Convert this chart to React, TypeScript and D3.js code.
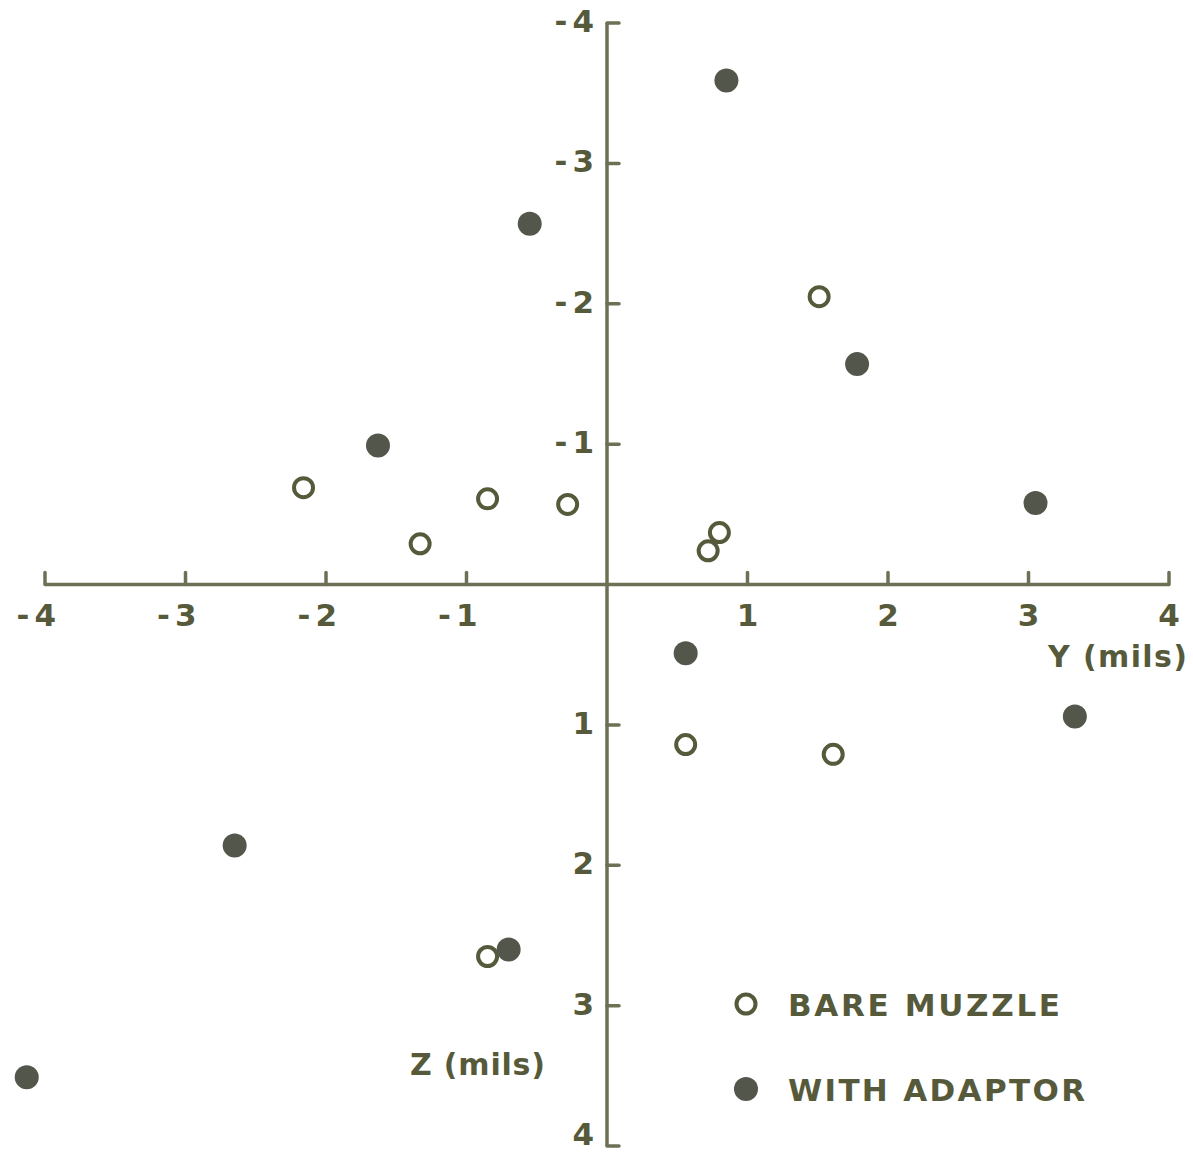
import React from "react";
import * as d3 from "d3";

const bareY = [1.51, -2.16, -0.85, -0.28, -1.33, 0.80, 0.72, 0.56, 1.61, -0.85];
const bareZ = [-2.05, -0.69, -0.61, -0.57, -0.29, -0.37, -0.24, 1.14, 1.21, 2.65];
const adaptY = [0.85, -0.55, 1.78, -1.63, 3.05, 0.56, 3.33, -2.65, -0.70, -4.13];
const adaptZ = [-3.59, -2.57, -1.57, -0.99, -0.58, 0.49, 0.94, 1.86, 2.60, 3.51];
const yTicks = [-4, -3, -2, -1, 1, 2, 3, 4];
const zTicks = [-4, -3, -2, -1, 1, 2, 3, 4];
const legendLabels = ["BARE MUZZLE", "WITH ADAPTOR"];
const axisTitles = ["Y (mils)", "Z (mils)"];

const W = 1193;
const H = 1155;
const TEXT = "#565a3b";
const AXIS = "#6d7054";
const DOT = "#53564a";
const FONT = "'DejaVu Sans', Verdana, sans-serif";

export default function App() {
  const x = d3.scaleLinear().domain([-4, 4]).range([45, 1169]);
  const y = d3.scaleLinear().domain([-4, 4]).range([23, 1146]);
  const x0 = x(0);
  const y0 = y(0);
  const tick = 12;

  const bare = bareY.map((v, i) => ({ a: v, b: bareZ[i] }));
  const adapt = adaptY.map((v, i) => ({ a: v, b: adaptZ[i] }));

  return (
    <svg
      width={W}
      height={H}
      style={{ position: "absolute", left: 0, top: 0, background: "#fff" }}
      fontFamily={FONT}
    >
      <rect width={W} height={H} fill="#fff" />
      {/* horizontal axis */}
      <line x1={x(-4)} x2={x(4)} y1={y0} y2={y0} stroke={AXIS} strokeWidth={3.5} />
      {yTicks.map((t) => (
        <line key={"xt" + t} x1={x(t)} x2={x(t)} y1={y0} y2={y0 - tick} stroke={AXIS} strokeWidth={3.5} strokeLinecap="round" />
      ))}
      {/* vertical axis */}
      <line x1={x0} x2={x0} y1={y(-4)} y2={y(4)} stroke={AXIS} strokeWidth={3.5} />
      {zTicks.map((t) => (
        <line key={"yt" + t} x1={x0} x2={x0 + tick} y1={y(t)} y2={y(t)} stroke={AXIS} strokeWidth={3.5} strokeLinecap="round" />
      ))}
      {/* x tick labels */}
      {yTicks.map((t) =>
        t < 0 ? (
          <text key={"xl" + t} x={x(t) + 11} y={y0 + 41} textAnchor="end" fontSize={31} fontWeight="bold" fill={TEXT}>
            {"-"}
            <tspan dx={5}>{Math.abs(t)}</tspan>
          </text>
        ) : (
          <text key={"xl" + t} x={x(t)} y={y0 + 41} textAnchor="middle" fontSize={31} fontWeight="bold" fill={TEXT}>
            {t}
          </text>
        )
      )}
      {/* y tick labels */}
      {zTicks.map((t) => (
        <text key={"yl" + t} x={x0 - 13} y={Math.min(y(t) + 9, H - 10)} textAnchor="end" fontSize={31} fontWeight="bold" fill={TEXT}>
          {t < 0 ? "-" : ""}
          {t < 0 ? <tspan dx={5}>{Math.abs(t)}</tspan> : t}
        </text>
      ))}
      {/* axis titles */}
      <text x={1048} y={667} fontSize={30} fontWeight="bold" fill={TEXT} textLength={139} lengthAdjust="spacing">
        {axisTitles[0]}
      </text>
      <text x={410} y={1075} fontSize={30} fontWeight="bold" fill={TEXT} textLength={135} lengthAdjust="spacing">
        {axisTitles[1]}
      </text>
      {/* points */}
      {bare.map((d, i) => (
        <circle key={"b" + i} cx={x(d.a)} cy={y(d.b)} r={9.5} fill="none" stroke={TEXT} strokeWidth={4} />
      ))}
      {adapt.map((d, i) => (
        <circle key={"a" + i} cx={x(d.a)} cy={y(d.b)} r={12} fill={DOT} />
      ))}
      {/* legend */}
      <circle cx={746} cy={1004} r={9.5} fill="none" stroke={TEXT} strokeWidth={4} />
      <text x={788} y={1016} fontSize={31} fontWeight="bold" fill={TEXT} textLength={272} lengthAdjust="spacing">
        {legendLabels[0]}
      </text>
      <circle cx={746} cy={1089} r={12} fill={DOT} />
      <text x={788} y={1101} fontSize={31} fontWeight="bold" fill={TEXT} textLength={297} lengthAdjust="spacing">
        {legendLabels[1]}
      </text>
    </svg>
  );
}
